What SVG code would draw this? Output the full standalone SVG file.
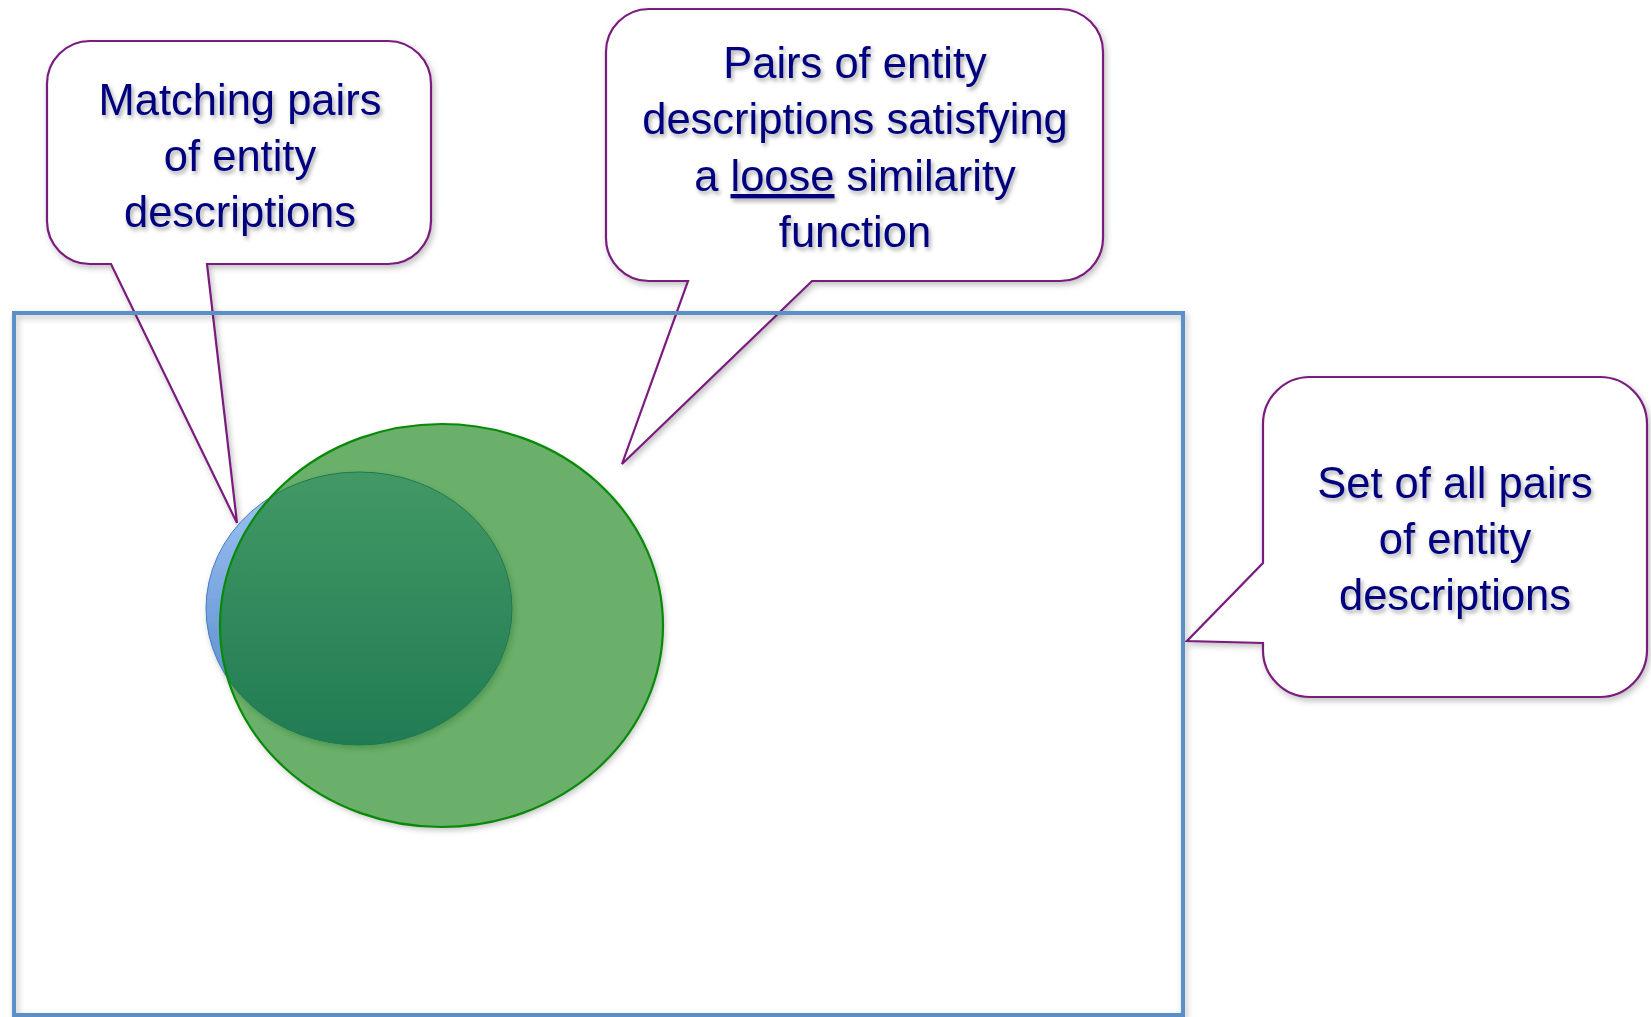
<svg xmlns="http://www.w3.org/2000/svg" width="1651" height="1017" viewBox="0 0 1651 1017">
<style>
.callout{fill:#fff;stroke:#7A1B7E;stroke-width:2.2;stroke-linejoin:miter}
.lbl{font-family:"Liberation Sans",Arial,sans-serif;font-size:43.5px;fill:#00007F;text-anchor:middle}
</style>
<defs>
<filter id="tsh" x="-10%" y="-30%" width="120%" height="160%">
<feDropShadow dx="2" dy="3" stdDeviation="2" flood-color="#000" flood-opacity="0.35"/>
</filter>
<filter id="ssh" x="-10%" y="-10%" width="120%" height="120%">
<feDropShadow dx="2" dy="3" stdDeviation="3" flood-color="#000" flood-opacity="0.25"/>
</filter>
<filter id="blur" x="-10%" y="-10%" width="120%" height="120%">
<feGaussianBlur stdDeviation="3"/>
</filter>
<linearGradient id="blueG" x1="0" y1="0" x2="0" y2="1">
<stop offset="0" stop-color="#A0C6F4"/>
<stop offset="1" stop-color="#4F82C8"/>
</linearGradient>
</defs>
<rect width="1651" height="1017" fill="#fff"/>

<g id="callout-matching">
<path class="callout" filter="url(#ssh)" d="M 90,41 H 388 A 43 43 0 0 1 431 84 V 221 A 43 43 0 0 1 388 264 H 207 L 237 523 L 111 264 H 90 A 43 43 0 0 1 47 221 V 84 A 43 43 0 0 1 90 41 Z"/>
<g filter="url(#tsh)">
<text class="lbl" x="240" y="115">Matching pairs</text>
<text class="lbl" x="240" y="171">of entity</text>
<text class="lbl" x="240" y="227">descriptions</text>
</g>
</g>

<g id="callout-loose">
<path class="callout" filter="url(#ssh)" d="M 649,9 H 1060 A 43 43 0 0 1 1103 52 V 238 A 43 43 0 0 1 1060 281 H 812 L 622 464 L 688 281 H 649 A 43 43 0 0 1 606 238 V 52 A 43 43 0 0 1 649 9 Z"/>
<g filter="url(#tsh)">
<text class="lbl" x="855" y="78">Pairs of entity</text>
<text class="lbl" x="855" y="134">descriptions satisfying</text>
<text class="lbl" x="855" y="191">a <tspan text-decoration="underline">loose</tspan> similarity</text>
<text class="lbl" x="855" y="247">function</text>
</g>
</g>

<g id="callout-all">
<path class="callout" filter="url(#ssh)" d="M 1310,377 H 1600 A 47 47 0 0 1 1647 424 V 650 A 47 47 0 0 1 1600 697 H 1310 A 47 47 0 0 1 1263 650 V 643 L 1187 641 L 1263 563 V 424 A 47 47 0 0 1 1310 377 Z"/>
<g filter="url(#tsh)">
<text class="lbl" x="1455" y="498">Set of all pairs</text>
<text class="lbl" x="1455" y="554">of entity</text>
<text class="lbl" x="1455" y="610">descriptions</text>
</g>
</g>

<g id="all-pairs-set">
<rect x="14" y="313" width="1169" height="702" fill="none" stroke="#5A8FC8" stroke-width="4" filter="url(#ssh)"/>
</g>

<g id="loose-set-base">
<ellipse cx="443.5" cy="628.5" rx="221.5" ry="201.5" fill="#000" fill-opacity="0.25" filter="url(#blur)"/>
<ellipse cx="441.5" cy="625.5" rx="221.5" ry="201.5" fill="#fff"/>
</g>

<g id="matching-set">
<ellipse cx="359" cy="608.5" rx="153" ry="136.5" fill="url(#blueG)" stroke="#4A7BBE" stroke-width="1" filter="url(#ssh)"/>
</g>

<g id="loose-set">
<ellipse cx="441.5" cy="625.5" rx="221.5" ry="201.5" fill="#007800" fill-opacity="0.584" stroke="#078A07" stroke-width="2.2"/>
</g>

<g id="connectors"></g>
</svg>
